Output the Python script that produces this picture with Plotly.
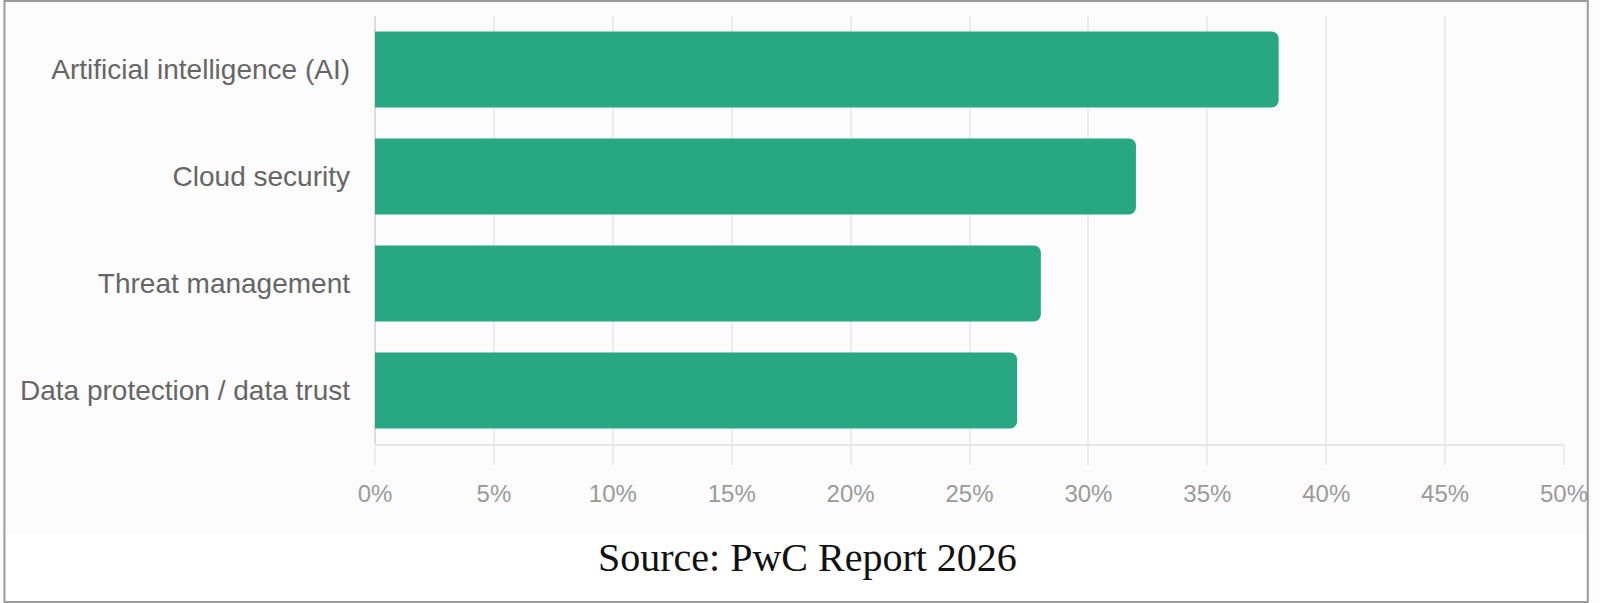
import plotly.graph_objects as go

# survey results, top to bottom
categories = [
    "Artificial intelligence (AI)",
    "Cloud security",
    "Threat management",
    "Data protection / data trust",
]
shares = [38, 32, 28, 27]

x_ticks = [0, 5, 10, 15, 20, 25, 30, 35, 40, 45, 50]
x_tick_labels = [f"{t}%" for t in x_ticks]

source_note = "Source: PwC Report 2026"

W, H = 1600, 603
# plot area in pixels
L, R, T, B = 375, 1575, 16, 444


def px_x(p):
    return (p - L) / (R - L)


def px_y(p):
    return (B - p) / (B - T)


fig = go.Figure()
fig.add_trace(go.Bar(
    x=shares,
    y=categories,
    orientation="h",
    marker=dict(color="#27a882", line=dict(width=0)),
    hoverinfo="skip",
))

shapes = [
    # white strip under the chart screenshot
    dict(type="rect", xref="paper", yref="paper",
         x0=px_x(0), x1=px_x(W), y0=px_y(H), y1=px_y(533),
         fillcolor="#ffffff", line=dict(width=0), layer="below"),
    # outer frame
    dict(type="rect", xref="paper", yref="paper",
         x0=px_x(1), x1=px_x(W - 1), y0=px_y(H - 1), y1=px_y(1),
         fillcolor="rgba(0,0,0,0)", line=dict(color="#9a9a9a", width=2)),
]

fig.update_layout(
    width=W,
    height=H,
    margin=dict(l=L, r=W - R, t=T, b=H - B, pad=0),
    paper_bgcolor="#fcfcfc",
    plot_bgcolor="#fcfcfc",
    showlegend=False,
    bargap=0.29,
    barcornerradius=7,
    font=dict(family="Liberation Sans, Arial, sans-serif"),
    shapes=shapes,
    annotations=[dict(
        text=source_note,
        xref="paper", yref="paper",
        x=px_x(812), y=px_y(557),
        xanchor="center", yanchor="middle",
        showarrow=False,
        font=dict(family="Liberation Serif, Times New Roman, serif", size=40, color="#111111"),
    )],
)

fig.update_xaxes(
    range=[0, 50],
    tickvals=x_ticks,
    ticktext=x_tick_labels,
    showgrid=True,
    gridcolor="#ececec",
    gridwidth=1.5,
    zeroline=True,
    zerolinecolor="#dcdcdc",
    zerolinewidth=1.5,
    showline=True,
    linecolor="#e6e6e6",
    linewidth=1.5,
    ticks="outside",
    ticklen=19,
    tickcolor="#ececec",
    tickwidth=1.5,
    ticklabelstandoff=8,
    tickfont=dict(size=24, color="#9a9a9a"),
    fixedrange=True,
)

fig.update_yaxes(
    autorange="reversed",
    showgrid=False,
    zeroline=False,
    showline=False,
    ticks="",
    ticklabelstandoff=24,
    tickfont=dict(size=28, color="#666666"),
    fixedrange=True,
)

# drop the default page margin so the figure fills the window
fig.write_html(
    "out.html",
    config={"displayModeBar": False},
    post_script="document.body.style.margin='0';document.body.style.overflow='hidden';",
)
